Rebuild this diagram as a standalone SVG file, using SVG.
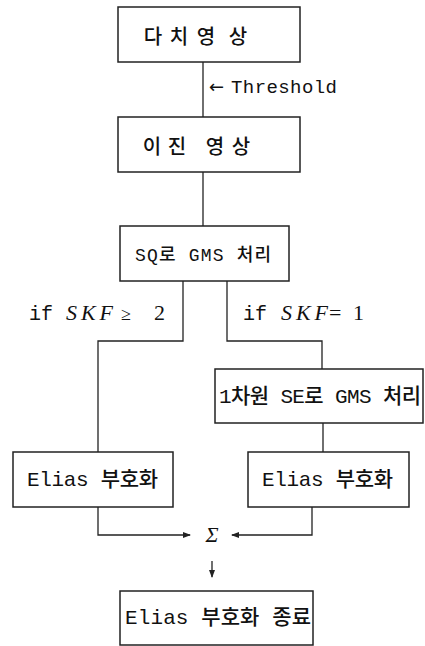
<svg xmlns="http://www.w3.org/2000/svg" width="425" height="646" viewBox="0 0 425 646">
<style>
.box{fill:#fff;stroke:#222;stroke-width:1.5}
.ln{fill:none;stroke:#222;stroke-width:1.3}
.kr{font-family:"Liberation Mono","Noto Sans CJK KR",monospace;fill:#111;dominant-baseline:central;font-weight:500}
.ch{font-family:"Noto Sans CJK KR",sans-serif;fill:#111;dominant-baseline:central;font-weight:500;text-anchor:middle;font-size:20px}
.lb{font-family:"Liberation Serif","Noto Sans CJK KR",serif;fill:#111}
.mo{font-family:"Liberation Mono",monospace;fill:#111}
.it{font-style:italic}
</style>
<defs>
<marker id="ah" markerWidth="8" markerHeight="6" refX="7" refY="3" orient="auto" markerUnits="userSpaceOnUse">
<path d="M0,0 L8,3 L0,6 Z" fill="#222"/>
</marker>
</defs>
<rect width="425" height="646" fill="#fff"/>
<g id="connectors">
<line class="ln" x1="203" y1="62" x2="203" y2="117"/>
<line class="ln" x1="203" y1="172" x2="203" y2="226"/>
<path class="ln" d="M183,281 V341 H98 V452"/>
<path class="ln" d="M227,281 V341 H322 V369"/>
<line class="ln" x1="323" y1="423" x2="323" y2="452"/>
<path class="ln" d="M98,507 V535 H190" marker-end="url(#ah)"/>
<path class="ln" d="M312,507 V535 H232" marker-end="url(#ah)"/>
<line class="ln" x1="212" y1="561" x2="212" y2="577" marker-end="url(#ah)"/>
</g>
<g id="n1">
<rect class="box" x="118" y="7" width="182" height="55"/>
<text class="ch" x="153" y="35">다</text>
<text class="ch" x="179" y="35">치</text>
<text class="ch" x="206" y="35">영</text>
<text class="ch" x="238" y="35">상</text>
</g>
<g id="threshold">
<text font-family="DejaVu Sans, sans-serif" x="209" y="93" font-size="18" fill="#111">←</text>
<text class="mo" x="231" y="93" font-size="19" textLength="106" lengthAdjust="spacing">Threshold</text>
</g>
<g id="n2">
<rect class="box" x="118" y="117" width="182" height="55"/>
<text class="ch" x="152" y="145">이</text>
<text class="ch" x="177" y="145">진</text>
<text class="ch" x="215" y="145">영</text>
<text class="ch" x="241" y="145">상</text>
</g>
<g id="n3">
<rect class="box" x="120" y="226" width="169" height="55"/>
<text class="kr" x="135" y="256" font-size="18" textLength="136" lengthAdjust="spacing">SQ로 GMS 처리</text>
</g>
<g id="labels">
<text class="mo" x="29" y="320" font-size="20">if</text>
<text class="lb it" x="66" y="320" font-size="22" textLength="47" lengthAdjust="spacing">SKF</text>
<text class="lb" x="121" y="320" font-size="18">≥</text>
<text class="lb" x="154" y="320" font-size="22">2</text>
<text class="mo" x="243" y="320" font-size="20">if</text>
<text class="lb it" x="281" y="320" font-size="22" textLength="47" lengthAdjust="spacing">SKF</text>
<text class="lb" x="329" y="320" font-size="22">=</text>
<text class="lb" x="353" y="320" font-size="22">1</text>
</g>
<g id="n4">
<rect class="box" x="215" y="369" width="208" height="54"/>
<text class="kr" x="219" y="397" font-size="21" textLength="202" lengthAdjust="spacing">1차원 SE로 GMS 처리</text>
</g>
<g id="n5">
<rect class="box" x="13" y="452" width="160" height="55"/>
<text class="kr" x="27" y="480" font-size="21" textLength="131" lengthAdjust="spacing">Elias 부호화</text>
</g>
<g id="n6">
<rect class="box" x="248" y="452" width="161" height="55"/>
<text class="kr" x="262" y="480" font-size="21" textLength="131" lengthAdjust="spacing">Elias 부호화</text>
</g>
<g id="sigma">
<text class="lb it" x="212" y="542" font-size="22" text-anchor="middle">Σ</text>
</g>
<g id="n7">
<rect class="box" x="120" y="591" width="193" height="54"/>
<text class="kr" x="125" y="618" font-size="21" textLength="186" lengthAdjust="spacing">Elias 부호화 종료</text>
</g>
</svg>
